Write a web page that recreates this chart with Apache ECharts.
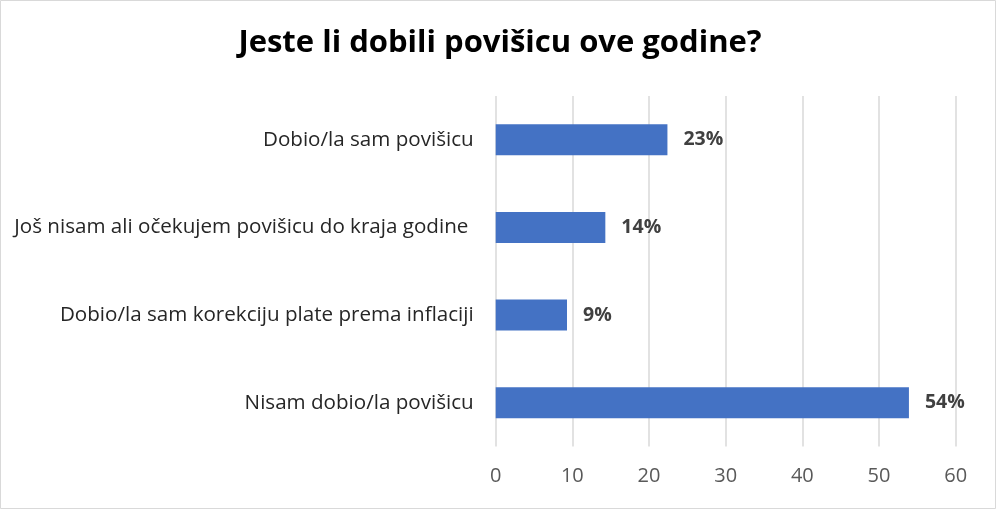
<!DOCTYPE html>
<html>
<head>
<meta charset="utf-8">
<script src="https://cdn.jsdelivr.net/npm/echarts@6/dist/echarts.min.js"></script>
<style>html,body{margin:0;padding:0;background:#fff}#c{width:1000px;height:512px}</style>
</head>
<body>
<div id="c"></div>
<script>
const titleText = 'Jeste li dobili povišicu ove godine?';
const categories = [
  'Dobio/la sam povišicu',
  'Još nisam ali očekujem povišicu do kraja godine ',
  'Dobio/la sam korekciju plate prema inflaciji',
  'Nisam dobio/la povišicu'
];
const values = [22.4, 14.3, 9.3, 53.9];
const valueLabels = ['23%', '14%', '9%', '54%'];
const xTicks = [0, 10, 20, 30, 40, 50, 60];

const chart = echarts.init(document.getElementById('c'));
chart.setOption({
  animation: false,
  backgroundColor: '#fff',
  title: {
    text: titleText,
    left: 'center',
    top: 23,
    textStyle: { fontFamily: 'Open Sans', fontWeight: 'bold', fontSize: 31, color: '#000' }
  },
  graphic: [{
    type: 'rect',
    shape: { x: 0.5, y: 0.5, width: 995, height: 508 },
    style: { fill: 'none', stroke: '#d9d9d9', lineWidth: 1 },
    silent: true
  }],
  grid: { left: 495.7, right: 44.3, top: 96, bottom: 65.5, containLabel: false },
  xAxis: {
    type: 'value',
    min: xTicks[0],
    max: xTicks[xTicks.length - 1],
    interval: 10,
    axisLine: { show: false },
    axisTick: { show: false },
    splitLine: { show: true, lineStyle: { color: '#d9d9d9', width: 1.5 } },
    axisLabel: { color: '#595959', fontSize: 20, fontFamily: 'Open Sans', margin: 20 }
  },
  yAxis: {
    type: 'category',
    inverse: true,
    data: categories,
    axisLine: { show: false },
    axisTick: { show: false },
    axisLabel: { color: '#262626', fontSize: 20.6, fontFamily: 'Open Sans', margin: 22 }
  },
  series: [{
    type: 'bar',
    data: values,
    barWidth: 31,
    itemStyle: { color: '#4472c4' },
    label: {
      show: true,
      position: 'right',
      distance: 16,
      formatter: p => valueLabels[p.dataIndex],
      color: '#404040',
      fontWeight: 'bold',
      fontSize: 19.5,
      fontFamily: 'Open Sans'
    }
  }]
});
</script>
</body>
</html>
